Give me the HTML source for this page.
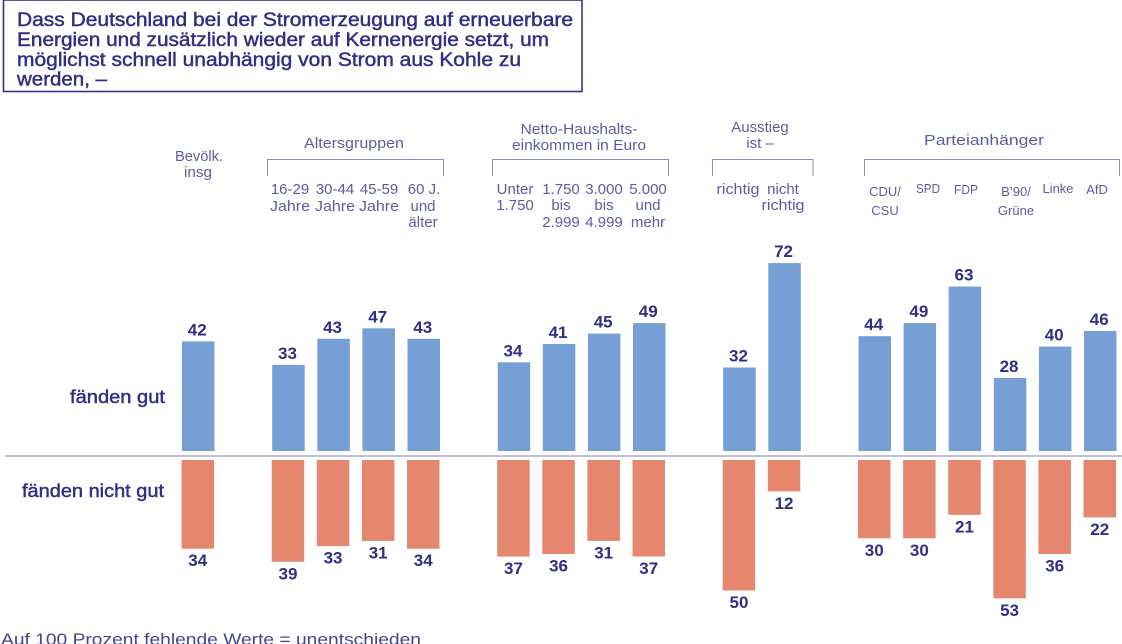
<!DOCTYPE html>
<html lang="de">
<head>
<meta charset="utf-8">
<title>Stromerzeugung Umfrage</title>
<style>
html,body{margin:0;padding:0;background:#fff;width:1122px;height:644px;overflow:hidden}
svg{display:block;font-family:"Liberation Sans",sans-serif}
.t{fill:#2f2f85;stroke:#2f2f85;stroke-width:0.45;font-weight:normal}
.l{fill:#5c5ca0;font-size:15px;text-anchor:middle}
.v{fill:#2f2f85;font-size:17px;font-weight:bold;text-anchor:middle}
.b{fill:none;stroke:#8a8abd;stroke-width:1}
</style>
</head>
<body>
<svg id="chart" width="1122" height="644" viewBox="0 0 1122 644" xmlns="http://www.w3.org/2000/svg">
<rect x="3.5" y="0" width="578.5" height="91.5" fill="#fff" stroke="#33338a" stroke-width="1.6"/>
<g class="t" font-size="19">
<text x="17" y="26" textLength="556" lengthAdjust="spacingAndGlyphs">Dass Deutschland bei der Stromerzeugung auf erneuerbare</text>
<text x="17" y="46" textLength="532" lengthAdjust="spacingAndGlyphs">Energien und zusätzlich wieder auf Kernenergie setzt, um</text>
<text x="17" y="66" textLength="504" lengthAdjust="spacingAndGlyphs">möglichst schnell unabhängig von Strom aus Kohle zu</text>
<text x="17" y="85.5" textLength="90" lengthAdjust="spacingAndGlyphs">werden, –</text>
</g>
<g class="l">
<text x="199" y="161" textLength="48" lengthAdjust="spacingAndGlyphs">Bevölk.</text>
<text x="198" y="177" textLength="28" lengthAdjust="spacingAndGlyphs">insg</text>
<text x="354" y="148" textLength="100" lengthAdjust="spacingAndGlyphs">Altersgruppen</text>
<text x="579" y="134" textLength="117" lengthAdjust="spacingAndGlyphs">Netto-Haushalts-</text>
<text x="579" y="150" textLength="134" lengthAdjust="spacingAndGlyphs">einkommen in Euro</text>
<text x="760" y="132">Ausstieg</text>
<text x="760" y="148">ist –</text>
<text x="984" y="145" textLength="120" lengthAdjust="spacingAndGlyphs">Parteianhänger</text>
</g>
<g>
<path class="b" d="M267.5 176V159.5H443.5V176"/>
<path class="b" d="M492.5 176V159.5H668.5V176"/>
<path class="b" d="M712.5 176V159.5H813V176"/>
<path class="b" d="M864.5 176V159.5H1119.5V176"/>
</g>
<g class="l">
<text x="290" y="194">16-29</text>
<text x="290" y="211" textLength="40" lengthAdjust="spacingAndGlyphs">Jahre</text>
<text x="335" y="194">30-44</text>
<text x="335" y="211" textLength="40" lengthAdjust="spacingAndGlyphs">Jahre</text>
<text x="379" y="194">45-59</text>
<text x="379" y="211" textLength="40" lengthAdjust="spacingAndGlyphs">Jahre</text>
<text x="424" y="194">60 J.</text>
<text x="423" y="211">und</text>
<text x="423" y="227">älter</text>
<text x="515" y="194">Unter</text>
<text x="515" y="210">1.750</text>
<text x="561" y="194">1.750</text>
<text x="561" y="210">bis</text>
<text x="561" y="227">2.999</text>
<text x="604" y="194">3.000</text>
<text x="604" y="210">bis</text>
<text x="604" y="227">4.999</text>
<text x="648" y="194">5.000</text>
<text x="648" y="210">und</text>
<text x="648" y="227">mehr</text>
<text x="738" y="194" textLength="43" lengthAdjust="spacingAndGlyphs">richtig</text>
<text x="783" y="194">nicht</text>
<text x="783" y="210" textLength="43" lengthAdjust="spacingAndGlyphs">richtig</text>
<g font-size="13">
<text x="885" y="196">CDU/</text>
<text x="885" y="215">CSU</text>
<text x="928" y="193" textLength="24" lengthAdjust="spacingAndGlyphs">SPD</text>
<text x="966" y="194" textLength="24" lengthAdjust="spacingAndGlyphs">FDP</text>
<text x="1016" y="196">B’90/</text>
<text x="1016" y="215">Grüne</text>
<text x="1058" y="193">Linke</text>
<text x="1097" y="194">AfD</text>
</g>
</g>
<text class="t" x="70" y="403" font-size="18" textLength="95" lengthAdjust="spacingAndGlyphs">fänden gut</text>
<text class="t" x="22" y="497" font-size="18" textLength="142" lengthAdjust="spacingAndGlyphs">fänden nicht gut</text>
<g id="bars"></g>
<line x1="5" x2="1122" y1="456" y2="456" stroke="#9a9ac4" stroke-width="1.2"/>
<text x="1" y="645" font-size="17" fill="#45458f" textLength="420" lengthAdjust="spacingAndGlyphs">Auf 100 Prozent fehlende Werte = unentschieden</text>
</svg>
<script>
var groupSizes = [1, 4, 4, 2, 6];
var positiveValues = [42, 33, 43, 47, 43, 34, 41, 45, 49, 32, 72, 44, 49, 63, 28, 40, 46];
var negativeValues = [34, 39, 33, 31, 34, 37, 36, 31, 37, 50, 12, 30, 30, 21, 53, 36, 22];

var SVG_NS = 'http://www.w3.org/2000/svg';
var barsRoot = document.getElementById('bars');
var PX_PER_UNIT = 2.61, SLOT = 45.1, LEFT = 182, BAR_W = 32.5;
var UP_BASE = 451, DOWN_BASE = 460;
function xScale(slot) { return LEFT + SLOT * slot; }
function hScale(v) { return v * PX_PER_UNIT; }

var slots = [];
var slotCursor = 0;
groupSizes.forEach(function (size) {
  for (var k = 0; k < size; k++) { slots.push(slotCursor); slotCursor++; }
  slotCursor++;
});

function addRect(x, y, h, fill, name) {
  var r = document.createElementNS(SVG_NS, 'rect');
  r.setAttribute('x', x);
  r.setAttribute('y', y);
  r.setAttribute('width', BAR_W);
  r.setAttribute('height', h);
  r.setAttribute('fill', fill);
  
  
  barsRoot.appendChild(r);
}
function addValue(x, y, value, name) {
  var t = document.createElementNS(SVG_NS, 'text');
  t.setAttribute('x', x);
  t.setAttribute('y', y);
  t.setAttribute('class', 'v');
  t.textContent = value;
  
  
  barsRoot.appendChild(t);
}
positiveValues.forEach(function (v, i) {
  var x = xScale(slots[i]), h = hScale(v);
  addRect(x, UP_BASE - h, h, '#769fd6', 'positive-bar');
  addValue(x + BAR_W / 2 - 1, UP_BASE - h - 6, v, 'positive-value');
});
negativeValues.forEach(function (v, i) {
  var x = xScale(slots[i]) - 0.5, h = hScale(v);
  addRect(x, DOWN_BASE, h, '#e5876f', 'negative-bar');
  addValue(x + BAR_W / 2, DOWN_BASE + h + 17.5, v, 'negative-value');
});
</script>
</body>
</html>
